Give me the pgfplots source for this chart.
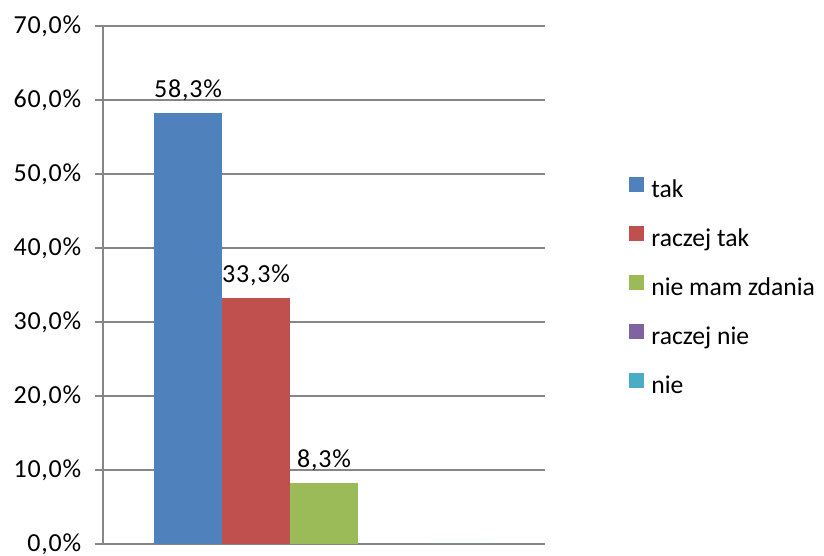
\documentclass[border=0pt]{standalone}
\usepackage{fontspec}
\setmainfont{Carlito}
\newfontfamily\tickfont[LetterSpace=3]{Carlito}
\usepackage{pgfplots}
\pgfplotsset{compat=1.18}
\definecolor{cA}{HTML}{4F81BD}
\definecolor{cB}{HTML}{C0504D}
\definecolor{cC}{HTML}{9BBB59}
\definecolor{cD}{HTML}{8064A2}
\definecolor{cE}{HTML}{4BACC6}
\definecolor{gridgray}{HTML}{868686}
\begin{document}
\fontsize{12.5}{15}\selectfont
\begin{tikzpicture}
\path[use as bounding box] (-51.5pt,-6pt) rectangle (360.5pt,272pt);
\begin{axis}[
  scale only axis, width=221pt, height=259pt,
  xmin=-1, xmax=1, ymin=0, ymax=70,
  ybar=0pt, bar width=34pt,
  xtick=\empty,
  ytick={0,10,...,70},
  ymajorgrids, grid style={draw=gridgray, line width=0.6pt},
  axis lines*=left, axis line style={draw=gridgray, line width=0.6pt},
  y tick style={draw=gridgray, line width=0.6pt},
  tick align=outside, major tick length=4pt,
  /pgf/number format/assume math mode=true,
  yticklabel={\pgfmathprintnumber[fixed,fixed zerofill,precision=1,use comma]{\tick}\%},
  yticklabel style={font=\tickfont\fontsize{13}{15}\selectfont, xshift=-2.5pt},
  every node near coord/.append style={font=\tickfont\fontsize{13}{15}\selectfont, black, yshift=1.5pt},
  legend style={at={(1.19,0.494)}, anchor=west, draw=none, fill=none, inner sep=0pt,
    row sep=11pt, column sep=0pt, cells={anchor=west},
    nodes={inner sep=0pt, text height=9pt, text depth=3pt, font=\rmfamily\fontsize{12.8}{15}\selectfont}},
  legend image code/.code={\fill[#1] (0pt,0pt) rectangle (7.5pt,7.5pt); \path (11pt,0pt);},
]
\addplot[fill=cA, draw=none, nodes near coords={\pgfmathprintnumber[fixed,fixed zerofill,precision=1,use comma,assume math mode=true]{\pgfplotspointmeta}\%}] coordinates {(0,58.3)};
\addlegendentry{tak}
\addplot[fill=cB, draw=none, nodes near coords={\pgfmathprintnumber[fixed,fixed zerofill,precision=1,use comma,assume math mode=true]{\pgfplotspointmeta}\%}] coordinates {(0,33.3)};
\addlegendentry{raczej tak}
\addplot[fill=cC, draw=none, nodes near coords={\pgfmathprintnumber[fixed,fixed zerofill,precision=1,use comma,assume math mode=true]{\pgfplotspointmeta}\%}] coordinates {(0,8.3)};
\addlegendentry{nie mam zdania}
\addplot[fill=cD, draw=none] coordinates {(0,0)};
\addlegendentry{raczej nie}
\addplot[fill=cE, draw=none] coordinates {(0,0)};
\addlegendentry{nie}
\end{axis}
\end{tikzpicture}
\end{document}
